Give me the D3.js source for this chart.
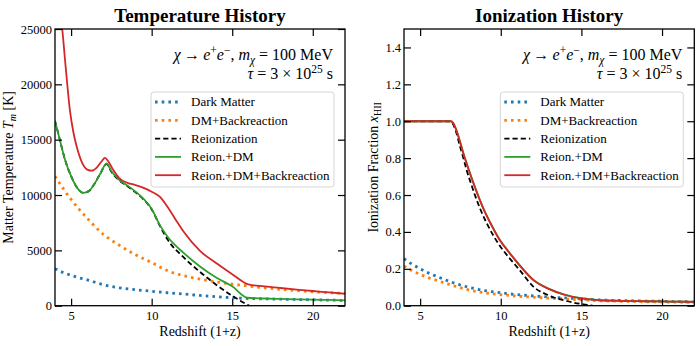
<!DOCTYPE html>
<html>
<head>
<meta charset="utf-8">
<script src="https://cdn.jsdelivr.net/npm/d3@7"></script>
<style>
  body { margin: 0; background: #fff; }
  svg text { font-family: "Liberation Serif", "DejaVu Serif", serif; fill: #000; }
</style>
</head>
<body>
<script>
// ---- temperature panel data (x = redshift 1+z, y = T_m in K)
var tDmZ   = [4, 4.5, 5, 5.5, 6, 7, 8, 9, 10, 11, 12, 13, 14, 15, 16, 17, 18, 19, 20, 21, 22];
var tDm    = [3350, 3000, 2750, 2520, 2330, 1900, 1620, 1450, 1300, 1170, 1050, 930, 820, 720, 650, 620, 590, 560, 530, 505, 480];
var tDmBr  = [11700, 10600, 9600, 8700, 7900, 6450, 5450, 4600, 3900, 3150, 2700, 2400, 2150, 1950, 1780, 1620, 1480, 1360, 1260, 1180, 1110];

var tReZ   = [4, 4.3, 4.6, 5, 5.4, 5.75, 6.1, 6.4, 6.8, 7.2, 7.5, 8, 8.5, 9, 9.5, 10, 10.5, 11, 12, 13, 14, 15, 15.5, 16.05];
var tRe    = [16700, 15000, 13300, 11700, 10600, 10200, 10350, 10900, 11900, 12800, 12100, 11300, 10800, 10250, 9600, 8700, 7250, 5950, 4350, 3050, 1900, 900, 450, 0];

var tReDmZ = [4, 4.3, 4.6, 5, 5.4, 5.75, 6.1, 6.4, 6.8, 7.2, 7.5, 8, 8.5, 9, 9.5, 10, 10.5, 11, 12, 13, 14, 15, 15.95, 17, 18, 19, 20, 21, 22];
var tReDm  = [16700, 15000, 13300, 11700, 10600, 10200, 10350, 10900, 11900, 12850, 12150, 11350, 10850, 10300, 9650, 8750, 7300, 6200, 4750, 3550, 2550, 1750, 720, 650, 610, 580, 550, 520, 490];

var tAllZ  = [4, 4.2, 4.45, 4.66, 4.93, 5.15, 5.34, 5.6, 6, 6.3, 6.6, 6.9, 7.1, 7.3, 7.6, 8, 8.5, 9, 9.5, 10, 10.5, 11, 11.5, 12, 13, 14, 15, 16, 17, 18, 19, 20, 21, 22];
var tAll   = [30500, 28000, 25000, 21600, 17600, 15600, 14400, 13200, 12300, 12200, 12500, 13050, 13350, 13050, 12300, 11500, 11100, 10900, 10650, 10300, 9850, 8900, 7750, 6650, 4950, 3850, 2850, 1930, 1750, 1600, 1460, 1330, 1200, 1080];

// ---- ionization panel data (x = redshift 1+z, y = x_HII)
var xDmZ   = [4, 4.5, 5, 5.5, 6, 7, 8, 9, 10, 11, 12, 13, 14, 15, 16, 17, 18, 19, 20, 21, 22];
var xDm    = [0.255, 0.225, 0.2, 0.178, 0.16, 0.126, 0.1, 0.082, 0.07, 0.06, 0.053, 0.047, 0.042, 0.037, 0.032, 0.029, 0.027, 0.025, 0.024, 0.022, 0.021];
var xDmBr  = [0.215, 0.19, 0.17, 0.152, 0.138, 0.11, 0.086, 0.07, 0.06, 0.052, 0.046, 0.041, 0.036, 0.032, 0.027, 0.025, 0.023, 0.021, 0.02, 0.019, 0.018];

var xReZ   = [4, 6, 6.9, 7.0, 7.2, 7.45, 7.65, 7.9, 8.2, 8.5, 8.7, 9.2, 9.94, 10.5, 11.2, 12, 13, 14, 15, 15.7];
var xRe    = [1, 1, 1, 0.99, 0.95, 0.87, 0.81, 0.73, 0.65, 0.575, 0.53, 0.435, 0.325, 0.262, 0.19, 0.105, 0.055, 0.027, 0.009, 0];

var xAllZ  = [4, 6, 6.9, 7.05, 7.25, 7.5, 7.7, 8.0, 8.3, 8.6, 8.9, 9.4, 9.94, 10.5, 11.2, 12, 13, 14, 15, 16, 17, 18, 19, 20, 21, 22];
var xReDm  = [1, 1, 1, 0.99, 0.952, 0.882, 0.822, 0.742, 0.667, 0.597, 0.532, 0.442, 0.357, 0.292, 0.217, 0.142, 0.091, 0.059, 0.041, 0.031, 0.027, 0.025, 0.024, 0.023, 0.022, 0.021];
var xAll   = [1, 1, 1, 0.99, 0.95, 0.88, 0.82, 0.74, 0.665, 0.595, 0.53, 0.44, 0.355, 0.29, 0.215, 0.14, 0.09, 0.058, 0.04, 0.03, 0.027, 0.025, 0.024, 0.023, 0.022, 0.021];

var xTicks = [5, 10, 15, 20];
var tTicks = [0, 5000, 10000, 15000, 20000, 25000];
var iTicks = [0, 0.2, 0.4, 0.6, 0.8, 1.0, 1.2, 1.4];
var legendNames = ["Dark Matter", "DM+Backreaction", "Reionization", "Reion.+DM", "Reion.+DM+Backreaction"];

var styles = [
  {color: "#1f77b4", width: 2.8, dash: "2.6,4.1"},
  {color: "#ff7f0e", width: 2.8, dash: "2.6,4.1"},
  {color: "#000000", width: 1.8, dash: "5.2,3"},
  {color: "#2ca02c", width: 1.8, dash: null},
  {color: "#d62728", width: 1.8, dash: null}
];

var SERIF = "'Liberation Serif', 'DejaVu Serif', serif";
var W = 700, H = 346;
var svg = d3.select("body").append("svg")
    .attr("width", W)
    .attr("height", H);

function zip(xs, ys) {
    return xs.map(function(x, i) { return [x, ys[i]]; });
}

function styleAxis(sel) {
    sel.select(".domain").remove();
    sel.selectAll(".tick line").attr("stroke", "#000").attr("stroke-width", 1.2);
    sel.selectAll(".tick text")
        .style("font-family", SERIF)
        .style("font-size", "12.5px")
        .attr("fill", "#000");
}

function drawPanel(p) {
    var x = d3.scaleLinear().domain([4, 22]).range([p.left, p.right]);
    var y = d3.scaleLinear().domain(p.yDomain).range([p.bottom, p.top]);
    var g = svg.append("g");

    g.append("clipPath").attr("id", p.id)
      .append("rect")
        .attr("x", p.left).attr("y", p.top)
        .attr("width", p.right - p.left).attr("height", p.bottom - p.top);

    // lines
    var line = d3.line()
        .x(function(d) { return x(d[0]); })
        .y(function(d) { return y(d[1]); })
        .curve(d3.curveMonotoneX);

    var lines = g.append("g").attr("clip-path", "url(#" + p.id + ")");
    p.series.forEach(function(s, i) {
        lines.append("path")
            .attr("d", line(s))
            .attr("fill", "none")
            .attr("stroke", styles[i].color)
            .attr("stroke-width", styles[i].width)
            .attr("stroke-dasharray", styles[i].dash)
            .attr("stroke-linejoin", "round");
    });

    // axes, ticks pointing inward on all four sides
    var tl = 7;
    g.append("g").attr("transform", "translate(0," + p.bottom + ")")
        .call(d3.axisBottom(x).tickValues(xTicks).tickSizeInner(-tl).tickSizeOuter(0).tickPadding(5))
        .call(styleAxis);
    g.append("g").attr("transform", "translate(0," + p.top + ")")
        .call(d3.axisTop(x).tickValues(xTicks).tickSizeInner(-tl).tickSizeOuter(0).tickFormat(""))
        .call(styleAxis);
    g.append("g").attr("transform", "translate(" + p.left + ",0)")
        .call(d3.axisLeft(y).tickValues(p.yTicks).tickSizeInner(-tl).tickSizeOuter(0).tickPadding(3).tickFormat(p.yFormat))
        .call(styleAxis);
    g.append("g").attr("transform", "translate(" + p.right + ",0)")
        .call(d3.axisRight(y).tickValues(p.yTicks).tickSizeInner(-tl).tickSizeOuter(0).tickFormat(""))
        .call(styleAxis);

    g.append("rect")
        .attr("x", p.left).attr("y", p.top)
        .attr("width", p.right - p.left).attr("height", p.bottom - p.top)
        .attr("fill", "none").attr("stroke", "#000").attr("stroke-width", 1.3);

    // title
    g.append("text")
        .attr("x", (p.left + p.right) / 2).attr("y", 22)
        .attr("text-anchor", "middle")
        .style("font-size", "19px").style("font-weight", "bold")
        .text(p.title);

    // x label
    g.append("text")
        .attr("x", (p.left + p.right) / 2).attr("y", 336)
        .attr("text-anchor", "middle")
        .style("font-size", "14px")
        .text("Redshift (1+z)");

    // y label
    var yl = g.append("text")
        .attr("transform", "translate(" + p.yLabelX + "," + ((p.top + p.bottom) / 2) + ") rotate(-90)")
        .attr("text-anchor", "middle")
        .style("font-size", "14px");
    p.yLabel(yl);

    // annotation
    var ax = p.right - 12;
    var a1 = g.append("text").attr("x", ax).attr("y", 60).attr("text-anchor", "end").style("font-size", "16px");
    a1.append("tspan").attr("font-style", "italic").text("χ");
    a1.append("tspan").text("\u2009→\u2009");
    a1.append("tspan").attr("font-style", "italic").text("e");
    a1.append("tspan").attr("dy", -6).style("font-size", "11.5px").text("+");
    a1.append("tspan").attr("dy", 6).attr("font-style", "italic").text("e");
    a1.append("tspan").attr("dy", -6).style("font-size", "11.5px").text("−");
    a1.append("tspan").attr("dy", 6).text(", ");
    a1.append("tspan").attr("font-style", "italic").text("m");
    a1.append("tspan").attr("dy", 3.5).style("font-size", "11.5px").attr("font-style", "italic").text("χ");
    a1.append("tspan").attr("dy", -3.5).text(" = 100 MeV");

    var a2 = g.append("text").attr("x", ax).attr("y", 79).attr("text-anchor", "end").style("font-size", "16px");
    a2.append("tspan").attr("font-style", "italic").text("τ");
    a2.append("tspan").text(" = 3 × 10");
    a2.append("tspan").attr("dy", -6).style("font-size", "11.5px").text("25");
    a2.append("tspan").attr("dy", 6).text(" s");

    // legend
    var lx = p.right - 194, ly = 92;
    g.append("rect")
        .attr("x", lx).attr("y", ly)
        .attr("width", 183).attr("height", 95)
        .attr("rx", 3)
        .attr("fill", "#fff").attr("fill-opacity", 0.8)
        .attr("stroke", "#d6d6d6").attr("stroke-width", 1);
    legendNames.forEach(function(name, i) {
        var cy = ly + 10 + i * 18.3;
        g.append("line")
            .attr("x1", lx + 4).attr("x2", lx + 30)
            .attr("y1", cy).attr("y2", cy)
            .attr("stroke", styles[i].color)
            .attr("stroke-width", styles[i].width)
            .attr("stroke-dasharray", styles[i].dash);
        g.append("text")
            .attr("x", lx + 40).attr("y", cy + 4.4)
            .style("font-size", "13px")
            .text(name);
    });
}

drawPanel({
    id: "clipT", left: 55, right: 345, top: 29, bottom: 305.7,
    yDomain: [0, 25000], yTicks: tTicks, yFormat: d3.format("d"),
    title: "Temperature History", yLabelX: 13,
    yLabel: function(t) {
        t.append("tspan").text("Matter Temperature ");
        t.append("tspan").attr("font-style", "italic").text("T");
        t.append("tspan").attr("dy", 3).style("font-size", "10px").attr("font-style", "italic").text("m");
        t.append("tspan").attr("dy", -3).text(" [K]");
    },
    series: [zip(tDmZ, tDm), zip(tDmZ, tDmBr), zip(tReZ, tRe), zip(tReDmZ, tReDm), zip(tAllZ, tAll)]
});

drawPanel({
    id: "clipI", left: 404, right: 694.3, top: 29, bottom: 305.7,
    yDomain: [0, 1.5], yTicks: iTicks, yFormat: d3.format(".1f"),
    title: "Ionization History", yLabelX: 378,
    yLabel: function(t) {
        t.append("tspan").text("Ionization Fraction ");
        t.append("tspan").attr("font-style", "italic").text("x");
        t.append("tspan").attr("dy", 3).style("font-size", "10px").text("HII");
    },
    series: [zip(xDmZ, xDm), zip(xDmZ, xDmBr), zip(xReZ, xRe), zip(xAllZ, xReDm), zip(xAllZ, xAll)]
});
</script>
</body>
</html>
